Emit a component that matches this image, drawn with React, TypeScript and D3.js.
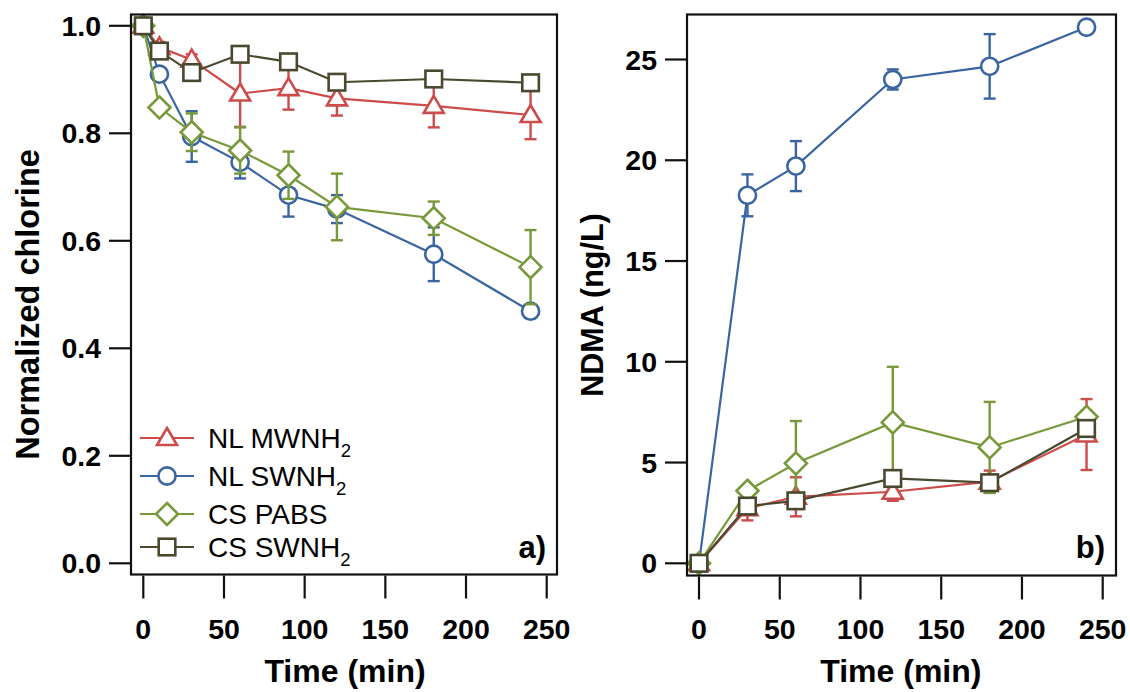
import React from "react";
import * as d3 from "d3";

// panel a) normalized chlorine
const timeA = [0, 10, 30, 60, 90, 120, 180, 240];
const mwnh2A = [1.0, 0.96, 0.937, 0.874, 0.884, 0.865, 0.851, 0.834];
const mwnh2AErr = [0, 0.01, 0.01, 0.062, 0.04, 0.032, 0.04, 0.045];
const swnh2A = [1.0, 0.91, 0.794, 0.746, 0.685, 0.659, 0.575, 0.469];
const swnh2AErr = [0, 0.01, 0.047, 0.03, 0.04, 0.026, 0.05, 0.01];
const pabsA = [1.0, 0.848, 0.802, 0.768, 0.722, 0.663, 0.642, 0.551];
const pabsAErr = [0, 0.01, 0.035, 0.043, 0.044, 0.062, 0.031, 0.069];
const cswA = [1.0, 0.953, 0.913, 0.947, 0.933, 0.895, 0.901, 0.894];
const cswAErr = [0, 0.005, 0.01, 0.01, 0.01, 0.01, 0.01, 0.01];

// panel b) NDMA
const timeB = [0, 30, 60, 120, 180, 240];
const mwnh2B = [0, 2.73, 3.3, 3.55, 4.05, 6.39];
const mwnh2BErr = [0, 0.6, 0.97, 0.45, 0.55, 1.76];
const swnh2B = [0, 18.26, 19.71, 24.01, 24.66, 26.6];
const swnh2BErr = [0, 1.04, 1.24, 0.5, 1.6, 0];
const pabsB = [0, 3.6, 4.96, 6.99, 5.75, 7.27];
const pabsBErr = [0, 0.2, 2.1, 2.76, 2.26, 0.3];
const cswB = [0, 2.84, 3.1, 4.21, 4.0, 6.69];
const cswBErr = [0, 0.1, 0.1, 0.1, 0.1, 0.1];

const xTicks = [0, 50, 100, 150, 200, 250];
const yTicksA = [0, 0.2, 0.4, 0.6, 0.8, 1.0];
const yTicksB = [0, 5, 10, 15, 20, 25];

const seriesNames = ["NL MWNH", "NL SWNH", "CS PABS", "CS SWNH"];
const seriesSub = ["2", "2", "", "2"];
const colors = ["#cc4b4b", "#3a65a0", "#77993a", "#4a4930"];
const shapes = ["triangle", "circle", "diamond", "square"];

const FONT = "'Liberation Sans', Arial, Helvetica, sans-serif";

const Marker = ({ shape, x, y, color }: any) => {
  const common = { fill: "#fff", stroke: color, strokeWidth: 2.6 };
  if (shape === "circle") return <circle cx={x} cy={y} r={8.6} {...common} />;
  if (shape === "square") return <rect x={x - 8.3} y={y - 8.3} width={16.6} height={16.6} {...common} />;
  if (shape === "diamond")
    return <path d={`M${x},${y - 11}L${x + 11},${y}L${x},${y + 11}L${x - 11},${y}Z`} {...common} />;
  return <path d={`M${x},${y - 10}L${x + 10},${y + 7}L${x - 10},${y + 7}Z`} {...common} />;
};

const Panel = ({ frame, x, y, yTicks, yFmt, times, series, errs, label, yTitle, titleX }: any) => {
  const [l, t, r, b] = frame;
  const line = d3.line<number>().x((_, i) => x(times[i])).y((d) => y(d));
  return (
    <g>
      {series.map((s: number[], k: number) => (
        <g key={k}>
          {s.map((v, i) =>
            errs[k][i] > 0 ? (
              <g key={i} stroke={colors[k]} strokeWidth={2.4}>
                <line x1={x(times[i])} x2={x(times[i])} y1={y(v - errs[k][i])} y2={y(v + errs[k][i])} />
                <line x1={x(times[i]) - 6} x2={x(times[i]) + 6} y1={y(v - errs[k][i])} y2={y(v - errs[k][i])} />
                <line x1={x(times[i]) - 6} x2={x(times[i]) + 6} y1={y(v + errs[k][i])} y2={y(v + errs[k][i])} />
              </g>
            ) : null
          )}
          <path d={line(s) || ""} fill="none" stroke={colors[k]} strokeWidth={2.2} />
          {s.map((v, i) => (
            <Marker key={i} shape={shapes[k]} x={x(times[i])} y={y(v)} color={colors[k]} />
          ))}
        </g>
      ))}
      <rect x={l} y={t} width={r - l} height={b - t} fill="none" stroke="#111" strokeWidth={2.2} />
      {xTicks.map((v) => (
        <g key={v}>
          <line x1={x(v)} x2={x(v)} y1={b + 1} y2={b + 24} stroke="#111" strokeWidth={2.2} />
          <text x={x(v)} y={639} textAnchor="middle" fontFamily={FONT} fontWeight="bold" fontSize={28.5}>
            {v}
          </text>
        </g>
      ))}
      {yTicks.map((v: number) => (
        <g key={v}>
          <line x1={l - 22} x2={l} y1={y(v)} y2={y(v)} stroke="#111" strokeWidth={2.2} />
          <text x={l - 30} y={y(v) + 10} textAnchor="end" fontFamily={FONT} fontWeight="bold" fontSize={28.5}>
            {yFmt(v)}
          </text>
        </g>
      ))}
      <text x={(x(0) + x(250)) / 2} y={682} textAnchor="middle" fontFamily={FONT} fontWeight="bold" fontSize={32}>
        Time (min)
      </text>
      <text
        transform={`translate(${titleX},${(t + b) / 2 + 10}) rotate(-90)`}
        textAnchor="middle"
        fontFamily={FONT}
        fontWeight="bold"
        fontSize={yTitle.size}
      >
        {yTitle.text}
      </text>
      <text x={r - 11} y={558} textAnchor="end" fontFamily={FONT} fontWeight="bold" fontSize={31}>
        {label}
      </text>
    </g>
  );
};

export default function App() {
  const xA = d3.scaleLinear().domain([0, 250]).range([143.3, 546.7]);
  const yA = d3.scaleLinear().domain([0, 1]).range([563.3, 25.8]);
  const xB = d3.scaleLinear().domain([0, 250]).range([699, 1102.7]);
  const yB = d3.scaleLinear().domain([0, 25]).range([563.3, 59.5]);
  const legendY = [438, 476, 514, 547];

  return (
    <svg width={1130} height={692} style={{ position: "absolute", left: 0, top: 0, background: "#fff" }}>
      <Panel
        frame={[131, 14.5, 557, 574.5]}
        x={xA}
        y={yA}
        yTicks={yTicksA}
        yFmt={d3.format(".1f")}
        times={timeA}
        series={[mwnh2A, swnh2A, pabsA, cswA]}
        errs={[mwnh2AErr, swnh2AErr, pabsAErr, cswAErr]}
        label="a)"
        yTitle={{ text: "Normalized chlorine", size: 32.5 }}
        titleX={39}
      />
      <Panel
        frame={[687, 14.5, 1116, 575.5]}
        x={xB}
        y={yB}
        yTicks={yTicksB}
        yFmt={d3.format("d")}
        times={timeB}
        series={[mwnh2B, swnh2B, pabsB, cswB]}
        errs={[mwnh2BErr, swnh2BErr, pabsBErr, cswBErr]}
        label="b)"
        yTitle={{ text: "NDMA (ng/L)", size: 30.5 }}
        titleX={603}
      />
      {seriesNames.map((name, k) => (
        <g key={name}>
          <line x1={140} x2={194} y1={legendY[k]} y2={legendY[k]} stroke={colors[k]} strokeWidth={2.2} />
          <Marker shape={shapes[k]} x={167} y={legendY[k]} color={colors[k]} />
          <text x={208} y={legendY[k] + 10} fontFamily={FONT} fontSize={28}>
            {name}
            {seriesSub[k] ? (
              <tspan fontSize={18.5} dy={9}>
                {seriesSub[k]}
              </tspan>
            ) : null}
          </text>
        </g>
      ))}
    </svg>
  );
}
